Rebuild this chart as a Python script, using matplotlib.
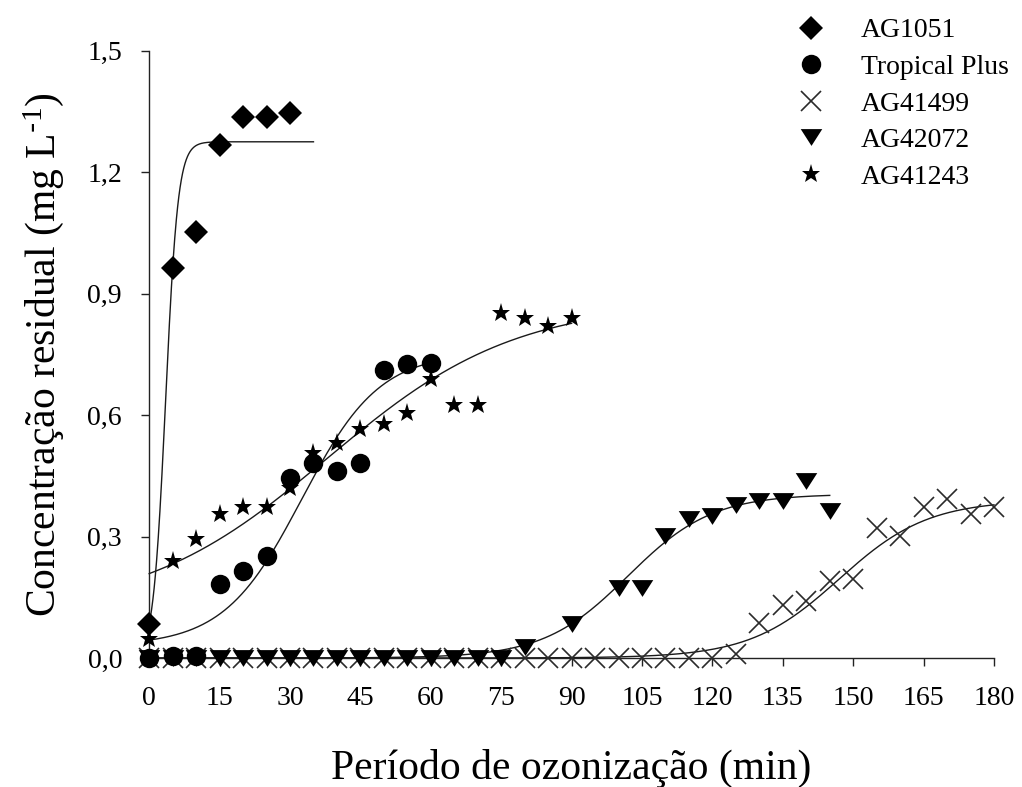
import numpy as np
import matplotlib
matplotlib.use("Agg")
import matplotlib.pyplot as plt
from matplotlib.path import Path

plt.rcParams['font.family'] = ['Liberation Serif', 'DejaVu Serif']
plt.rcParams['mathtext.default'] = 'regular'

# ---- measured residual ozone concentrations (mg/L) vs ozonation time (min) ----
t_ag1051 = [0, 5, 10, 15, 20, 25, 30]
c_ag1051 = [0.084, 0.963, 1.052, 1.267, 1.337, 1.337, 1.347]

t_tropical = [0, 5, 10, 15, 20, 25, 30, 35, 40, 45, 50, 55, 60]
c_tropical = [0.0, 0.006, 0.006, 0.182, 0.215, 0.252, 0.445, 0.482, 0.462,
              0.482, 0.712, 0.725, 0.729]

t_ag41499 = [0, 5, 10, 15, 20, 25, 30, 35, 40, 45, 50, 55, 60, 65, 70, 75,
             80, 85, 90, 95, 100, 105, 110, 115, 120, 125, 130, 135, 140,
             145, 150, 155, 160, 165, 170, 175, 180]
c_ag41499 = [0.0, 0.0, 0.0, 0.0, 0.0, 0.0, 0.0, 0.0, 0.0, 0.0, 0.0, 0.0, 0.0,
             0.0, 0.0, 0.0, 0.0, 0.0, 0.0, 0.0, 0.0, 0.0, 0.0, 0.0, 0.0,
             0.010, 0.086, 0.131, 0.140, 0.191, 0.195, 0.320, 0.302, 0.374,
             0.392, 0.355, 0.374]

t_ag42072 = [0, 5, 10, 15, 20, 25, 30, 35, 40, 45, 50, 55, 60, 65, 70, 75,
             80, 90, 100, 105, 110, 115, 120, 125, 130, 135, 140, 145]
c_ag42072 = [0.0, 0.0, 0.0, 0.0, 0.0, 0.0, 0.0, 0.0, 0.0, 0.0, 0.0, 0.0, 0.0,
             0.0, 0.0, 0.0, 0.026, 0.084, 0.174, 0.174, 0.302, 0.343, 0.351,
             0.377, 0.388, 0.388, 0.437, 0.363]

t_ag41243 = [0, 5, 10, 15, 20, 25, 30, 35, 40, 45, 50, 55, 60, 65, 70, 75,
             80, 85, 90]
c_ag41243 = [0.047, 0.240, 0.293, 0.355, 0.372, 0.374, 0.421, 0.507, 0.532,
             0.565, 0.577, 0.606, 0.688, 0.626, 0.626, 0.852, 0.840, 0.821,
             0.840]

# ---- sigmoidal (Boltzmann) fits: A1, A2, t0, dx and fitted time span ----
fit_ag1051 = (0.0, 1.275, 3.5, 1.32)
span_ag1051 = (0, 35)
fit_tropical = (0.03, 0.755, 32.5, 8.3)
span_tropical = (0, 60)
fit_ag41499 = (0.0, 0.39, 147.0, 9.5)
span_ag41499 = (0, 180)
fit_ag42072 = (0.0, 0.405, 102.0, 9.0)
span_ag42072 = (0, 145)
fit_ag41243 = (0.108, 0.88, 38.0, 20.0)
span_ag41243 = (0, 90)

x_ticks = [0, 15, 30, 45, 60, 75, 90, 105, 120, 135, 150, 165, 180]
y_ticks = [0.0, 0.3, 0.6, 0.9, 1.2, 1.5]
y_ticklabels = ['0,0', '0,3', '0,6', '0,9', '1,2', '1,5']


def boltzmann(t, a1, a2, t0, dx):
    return a2 + (a1 - a2) / (1.0 + np.exp((t - t0) / dx))


# wide, flat downward triangle
tri_down = Path([(-1.0, 0.78), (1.0, 0.78), (0.0, -0.78), (-1.0, 0.78)],
                [Path.MOVETO, Path.LINETO, Path.LINETO, Path.CLOSEPOLY])

fig = plt.figure(figsize=(10.22, 7.87), dpi=100)
ax = fig.add_axes([149.2 / 1022, 1 - 658 / 787, (994 - 149.2) / 1022,
                   (658 - 50.7) / 787])

for fit, span in [(fit_ag1051, span_ag1051), (fit_tropical, span_tropical),
                  (fit_ag41499, span_ag41499), (fit_ag42072, span_ag42072),
                  (fit_ag41243, span_ag41243)]:
    tt = np.linspace(span[0], span[1], 400)
    ax.plot(tt, boltzmann(tt, *fit), color='#1a1a1a', lw=1.0, zorder=2,
            clip_on=False)

common = dict(linestyle='none', clip_on=False)
h_x, = ax.plot(t_ag41499, c_ag41499, marker='x', ms=14, mew=1.2,
               color='#2a2a2a', label='AG41499', zorder=3, **common)
h_tri, = ax.plot(t_ag42072, c_ag42072, marker=tri_down, ms=15.5, mew=0,
                 color='black', label='AG42072', zorder=4, **common)
h_dia, = ax.plot(t_ag1051, c_ag1051, marker='D', ms=12.5, mew=0,
                 color='black', label='AG1051', zorder=5, **common)
h_star, = ax.plot(t_ag41243, c_ag41243, marker='*', ms=14, mew=0,
                  color='black', label='AG41243', zorder=6, **common)
h_circ, = ax.plot(t_tropical, c_tropical, marker='o', ms=14, mew=0,
                  color='black', label='Tropical Plus', zorder=5, **common)

ax.set_xlim(0, 180)
ax.set_ylim(0, 1.5)
ax.set_xticks(x_ticks)
ax.set_yticks(y_ticks)
ax.set_yticklabels(y_ticklabels)

for side in ['top', 'right']:
    ax.spines[side].set_visible(False)
for side in ['left', 'bottom']:
    ax.spines[side].set_linewidth(1.0)
    ax.spines[side].set_color('#222222')

ax.tick_params(axis='both', direction='out', length=5.5, width=1.0,
               colors='#222222', labelsize=20, labelcolor='black')
ax.tick_params(axis='y', pad=14)
ax.tick_params(axis='x', pad=15)

ax.set_xlabel('Período de ozonização (min)', fontsize=30)
ax.set_ylabel(r'Concentração residual (mg L$^{\text{-}1}$)', fontsize=30)
ax.xaxis.set_label_coords(0.5, -0.15)
ax.yaxis.set_label_coords(-0.098, 0.5)

fig.legend(handles=[h_dia, h_circ, h_x, h_tri, h_star],
           loc='upper left', bbox_to_anchor=(783 / 1022, 1 - 18 / 787),
           frameon=False, fontsize=20, handlelength=2.0,
           handletextpad=0.8, labelspacing=0.4, borderpad=0,
           borderaxespad=0, numpoints=1)

fig.savefig('out.png', dpi=100)
